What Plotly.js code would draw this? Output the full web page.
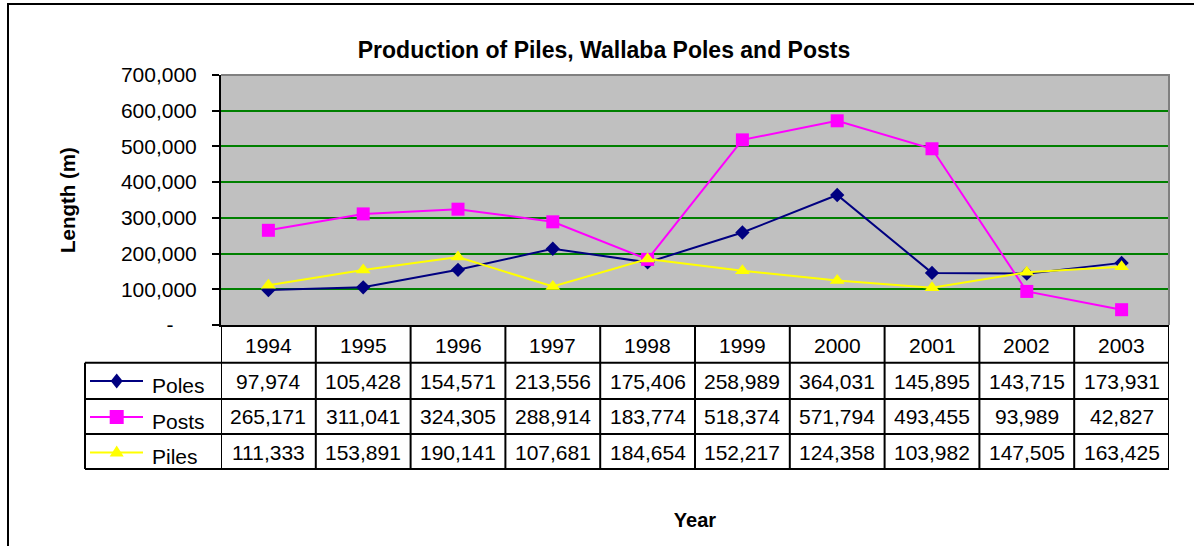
<!DOCTYPE html>
<html><head><meta charset="utf-8">
<script src="https://cdn.plot.ly/plotly-3.0.1.min.js"></script>
<style>html,body{margin:0;padding:0;background:#fff}#chart{width:1194px;height:546px}</style>
</head><body><div id="chart"></div>
<script>
// ---- data ----
const years = ['1994','1995','1996','1997','1998','1999','2000','2001','2002','2003'];
const poles = [97974,105428,154571,213556,175406,258989,364031,145895,143715,173931];
const posts = [265171,311041,324305,288914,183774,518374,571794,493455,93989,42827];
const piles = [111333,153891,190141,107681,184654,152217,124358,103982,147505,163425];
const seriesNames = ['Poles','Posts','Piles'];
const yTickValues = [0,100000,200000,300000,400000,500000,600000,700000];
const yTickLabels = ['-\u00a0\u00a0\u00a0\u00a0','100,000','200,000','300,000','400,000','500,000','600,000','700,000'];
const chartTitle = 'Production of Piles, Wallaba Poles and Posts';
const xTitle = 'Year';
const yTitle = 'Length (m)';

// ---- styling / geometry ----
const W = 1194, H = 546;
const L = 221, R = 25, T = 75, B = 221;
const PW = W - L - R, PH = H - T - B;
const px2x = px => (px - L) / PW;
const py2y = py => (T + PH - py) / PH;
const FONT = 'Liberation Sans, Arial, sans-serif';
const FS = 21;
const colors = ['#000080', '#FF00FF', '#FFFF00'];
const symbols = ['diamond', 'square', 'triangle-up'];
const sizes = [11, 13, 13];
const seriesData = [poles, posts, piles];

const traces = seriesData.map((d, i) => ({
  type: 'scatter', mode: 'lines+markers', name: seriesNames[i],
  x: years, y: d,
  line: {color: colors[i], width: 2},
  marker: {symbol: symbols[i], size: sizes[i], color: colors[i], line: {width: 0}},
  showlegend: false, cliponaxis: false
}));

// table geometry (pixels)
const rowLines = [325, 362.7, 399, 434, 469];
const headerCenter = 345.5;
const rowCenters = [381, 417, 452.5];
const legendLeft = 85;

const shapes = [];
const annotations = [];
const blk = {color: '#000000', width: 2};

// outer chart border (top + left)
shapes.push({type: 'path', xref: 'paper', yref: 'paper',
  path: `M ${px2x(1300)},${py2y(4)} L ${px2x(8)},${py2y(4)} L ${px2x(8)},${py2y(700)}`,
  line: {color: '#000000', width: 2}});
// plot area top/right border (grey)
shapes.push({type: 'path', xref: 'paper', yref: 'paper', layer: 'above',
  path: `M 0,1 L 1,1 L 1,0`, line: {color: '#808080', width: 2}});

// vertical column lines of table
for (let i = 0; i <= years.length; i++) {
  shapes.push({type: 'line', xref: 'x', yref: 'paper',
    x0: i - 0.5, x1: i - 0.5, y0: py2y(rowLines[0]), y1: py2y(rowLines[4]), line: blk});
}
// horizontal row lines of table
for (let r = 1; r < rowLines.length; r++) {
  shapes.push({type: 'line', xref: 'paper', yref: 'paper',
    x0: px2x(legendLeft), x1: 1, y0: py2y(rowLines[r]), y1: py2y(rowLines[r]), line: blk});
}
// left edge of legend column
shapes.push({type: 'line', xref: 'paper', yref: 'paper',
  x0: px2x(legendLeft), x1: px2x(legendLeft), y0: py2y(rowLines[1]), y1: py2y(rowLines[4]), line: blk});

// legend keys
const keyX0 = 90, keyX1 = 143, keyXc = 116.7;
rowCenters.forEach((cy, i) => {
  shapes.push({type: 'line', xref: 'paper', yref: 'paper',
    x0: px2x(keyX0), x1: px2x(keyX1), y0: py2y(cy), y1: py2y(cy),
    line: {color: colors[i], width: 2}});
  let p;
  if (symbols[i] === 'diamond') {
    p = `M ${px2x(keyXc)},${py2y(cy - 7.5)} L ${px2x(keyXc + 6)},${py2y(cy)} L ${px2x(keyXc)},${py2y(cy + 7.5)} L ${px2x(keyXc - 6)},${py2y(cy)} Z`;
  } else if (symbols[i] === 'square') {
    p = `M ${px2x(keyXc - 7)},${py2y(cy - 7)} L ${px2x(keyXc + 7)},${py2y(cy - 7)} L ${px2x(keyXc + 7)},${py2y(cy + 7)} L ${px2x(keyXc - 7)},${py2y(cy + 7)} Z`;
  } else {
    p = `M ${px2x(keyXc)},${py2y(cy - 7)} L ${px2x(keyXc + 7)},${py2y(cy + 4)} L ${px2x(keyXc - 7)},${py2y(cy + 4)} Z`;
  }
  shapes.push({type: 'path', xref: 'paper', yref: 'paper', path: p,
    fillcolor: colors[i], line: {width: 0}});
  annotations.push({xref: 'paper', yref: 'paper', x: px2x(150), y: py2y(cy + 4),
    xanchor: 'left', yanchor: 'middle', showarrow: false, text: seriesNames[i],
    font: {family: FONT, size: FS, color: '#000'}});
});

// header years (category index positions)
years.forEach((yr, c) => {
  annotations.push({xref: 'x', yref: 'paper', x: c, y: py2y(headerCenter),
    xanchor: 'center', yanchor: 'middle', showarrow: false, text: yr,
    font: {family: FONT, size: FS, color: '#000'}});
});
// data cells
seriesData.forEach((d, r) => {
  d.forEach((v, c) => {
    annotations.push({xref: 'x', yref: 'paper', x: c, y: py2y(rowCenters[r]),
      xanchor: 'center', yanchor: 'middle', showarrow: false,
      text: v.toLocaleString('en-US'),
      font: {family: FONT, size: FS, color: '#000'}});
  });
});

const layout = {
  width: W, height: H,
  margin: {l: L, r: R, t: T, b: B, pad: 0},
  paper_bgcolor: '#ffffff', plot_bgcolor: '#C0C0C0',
  font: {family: FONT, size: FS, color: '#000'},
  title: {text: chartTitle, xref: 'container', yref: 'container',
    x: 604 / W, xanchor: 'center', y: 1 - 50 / H, yanchor: 'middle',
    font: {family: FONT, size: 23, weight: 'bold', color: '#000'}},
  xaxis: {type: 'category', range: [-0.5, years.length - 0.5],
    showgrid: false, zeroline: false, showticklabels: false, ticks: '',
    showline: true, linecolor: '#000', linewidth: 2, fixedrange: true,
    title: {text: xTitle, standoff: 187, font: {family: FONT, size: 20, weight: 'bold'}}},
  yaxis: {range: [0, 700000], tickvals: yTickValues, ticktext: yTickLabels,
    ticks: 'outside', ticklen: 7, tickwidth: 2, tickcolor: '#000',
    ticklabelstandoff: 11,
    showline: true, linecolor: '#000', linewidth: 2,
    showgrid: true, gridcolor: '#008000', gridwidth: 2, zeroline: false,
    tickfont: {family: FONT, size: FS}, fixedrange: true,
    title: {text: yTitle, standoff: 40, font: {family: FONT, size: 20.5, weight: 'bold'}}},
  shapes: shapes, annotations: annotations, showlegend: false
};

Plotly.newPlot('chart', traces, layout, {displayModeBar: false, staticPlot: true});
</script>
</body></html>
